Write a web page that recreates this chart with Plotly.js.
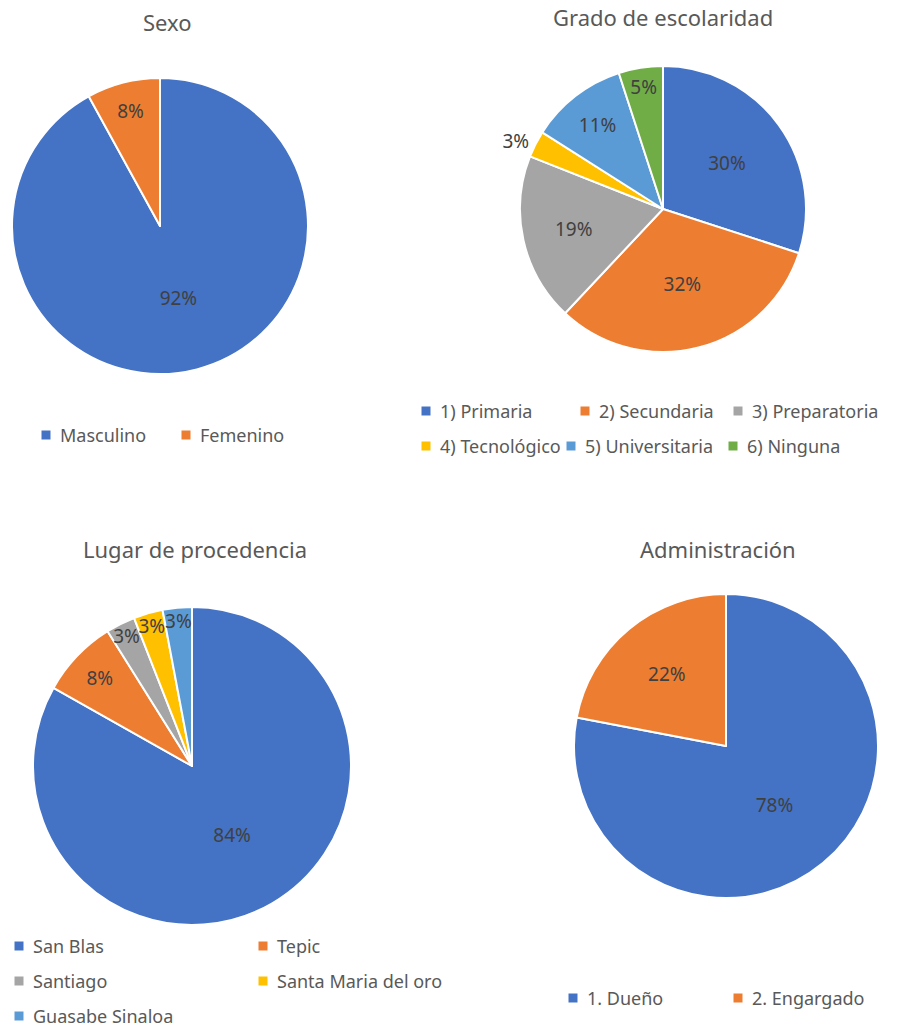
<!DOCTYPE html>
<html>
<head>
<meta charset="utf-8">
<script src="https://cdn.plot.ly/plotly-3.0.1.min.js"></script>
<style>html,body{margin:0;padding:0;background:#fff;}#chart{width:906px;height:1030px;}</style>
</head>
<body>
<div id="chart"></div>
<script>
// ---- data ----
const sexoLabels = ["Masculino", "Femenino"];
const sexoValues = [92, 8];

const gradoLabels = ["1) Primaria", "2) Secundaria", "3) Preparatoria", "4) Tecnológico", "5) Universitaria", "6) Ninguna"];
const gradoValues = [30, 32, 19, 3, 11, 5];

const lugarLabels = ["San Blas", "Tepic", "Santiago", "Santa Maria del oro", "Guasabe Sinaloa"];
const lugarValues = [84, 8, 3, 3, 3];

const adminLabels = ["1. Dueño", "2. Engargado"];
const adminValues = [78, 22];

const titles = ["Sexo", "Grado de escolaridad", "Lugar de procedencia", "Administración"];

const colors = ["#4472C4", "#ED7D31", "#A5A5A5", "#FFC000", "#5B9BD5", "#70AD47"];

// ---- layout helpers ----
const W = 906, H = 1030;
const FONT = "Noto Sans, Open Sans, sans-serif";
const px = x => x / W;
const py = y => 1 - y / H;
function dom(cx, cy, r) {
  return { x: [px(cx - r), px(cx + r)], y: [py(cy + r), py(cy - r)] };
}

function pie(labels, values, domain, textpos) {
  return {
    type: "pie",
    labels: labels,
    values: values,
    sort: false,
    direction: "clockwise",
    rotation: 0,
    domain: domain,
    marker: { colors: colors.slice(0, labels.length), line: { color: "#ffffff", width: 2 } },
    texttemplate: "%{value}%",
    textposition: textpos,
    insidetextorientation: "horizontal",
    textfont: { family: FONT, size: 19, color: "#404040" },
    hoverinfo: "label+percent",
    showlegend: false
  };
}

const data = [
  pie(sexoLabels, sexoValues, dom(160, 226, 148), "inside"),
  pie(gradoLabels, gradoValues, dom(663, 209, 143), ["inside", "inside", "inside", "outside", "inside", "inside"]),
  pie(lugarLabels, lugarValues, dom(192, 766, 159), "inside"),
  pie(adminLabels, adminValues, dom(726, 746, 152), "inside")
];

const annotations = [];
const shapes = [];
const titlePos = [[167, 22], [663, 17], [195, 549], [718, 549]];
titles.forEach((t, i) => {
  annotations.push({
    xref: "paper", yref: "paper", x: px(titlePos[i][0]), y: py(titlePos[i][1]),
    xanchor: "center", yanchor: "middle", showarrow: false,
    text: t, font: { family: FONT, size: 22, color: "#595959" }
  });
});

// custom legends: labels and [markerX, rowY] for each entry
function legend(labels, pos) {
  labels.forEach((l, i) => {
    const [mx, my] = pos[i];
    shapes.push({
      type: "rect", xref: "paper", yref: "paper",
      x0: px(mx - 4.5), x1: px(mx + 4.5), y0: py(my + 4.5), y1: py(my - 4.5),
      fillcolor: colors[i], line: { width: 0 }
    });
    annotations.push({
      xref: "paper", yref: "paper", x: px(mx + 12), y: py(my),
      xanchor: "left", yanchor: "middle", showarrow: false,
      text: l, font: { family: FONT, size: 18, color: "#595959" }
    });
  });
}
legend(sexoLabels, [[46, 435], [186, 435]]);
legend(gradoLabels, [[426, 411], [585, 411], [738, 411], [426, 446], [571, 446], [733, 446]]);
legend(lugarLabels, [[19, 946], [263, 946], [19, 981], [263, 981], [19, 1016]]);
legend(adminLabels, [[573, 998], [738, 998]]);

const layout = {
  width: W, height: H,
  margin: { l: 0, r: 0, t: 0, b: 0 },
  paper_bgcolor: "#ffffff",
  showlegend: false,
  uniformtext: { minsize: 19, mode: "show" },
  annotations: annotations,
  shapes: shapes,
  font: { family: FONT }
};

Plotly.newPlot("chart", data, layout, { displayModeBar: false, staticPlot: true });
</script>
</body>
</html>
